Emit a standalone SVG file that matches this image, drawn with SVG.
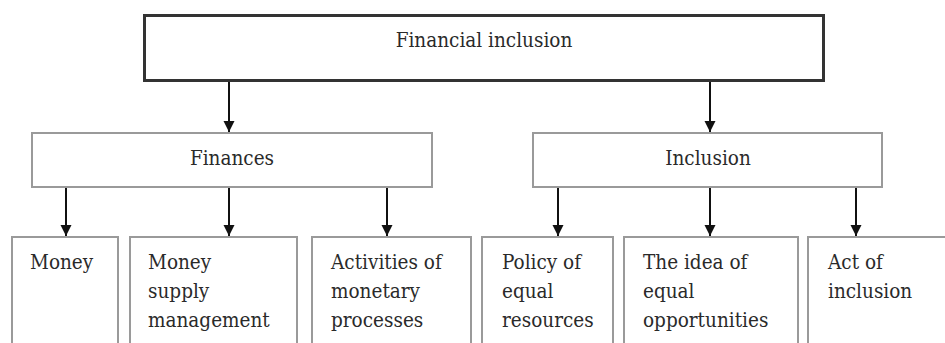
<svg xmlns="http://www.w3.org/2000/svg" width="945" height="343" viewBox="0 0 945 343">
  <defs>
    <marker id="head" viewBox="0 0 10 10" refX="10" refY="5" markerWidth="5.5" markerHeight="6" markerUnits="strokeWidth" orient="auto">
      <path d="M0,0 L10,5 L0,10 z" fill="#111"/>
    </marker>
  </defs>
  <style>
    text { font-family: 'DejaVu Serif Condensed', 'DejaVu Serif', serif; font-stretch: condensed; font-size: 20.5px; fill: #2a2a2a; }
    .mid { text-anchor: middle; }
    .root { fill: #fff; stroke: #333; stroke-width: 3; }
    .box { fill: #fff; stroke: #9a9a9a; stroke-width: 2; }
    .conn { stroke: #111; stroke-width: 2; fill: none; marker-end: url(#head); }
  </style>
  <rect width="945" height="343" fill="#fff"/>

  <!-- top level -->
  <g id="financial-inclusion">
    <rect class="root" x="144.5" y="15.5" width="679" height="65"/>
    <text class="mid" x="484" y="46.5">Financial inclusion</text>
  </g>

  <!-- second level -->
  <g id="finances">
    <rect class="box" x="32" y="133" width="400" height="54"/>
    <text class="mid" x="232" y="165">Finances</text>
  </g>
  <g id="inclusion">
    <rect class="box" x="533" y="133" width="349" height="54"/>
    <text class="mid" x="708" y="165">Inclusion</text>
  </g>

  <!-- third level -->
  <g id="money">
    <rect class="box" x="12" y="237" width="106" height="130"/>
    <text x="30" y="269">Money</text>
  </g>
  <g id="money-supply">
    <rect class="box" x="130" y="237" width="167" height="130"/>
    <text x="148" y="269">Money</text>
    <text x="148" y="298">supply</text>
    <text x="148" y="327">management</text>
  </g>
  <g id="monetary-activities">
    <rect class="box" x="312" y="237" width="159" height="130"/>
    <text x="331" y="269">Activities of</text>
    <text x="331" y="298">monetary</text>
    <text x="331" y="327">processes</text>
  </g>
  <g id="equal-resources">
    <rect class="box" x="482" y="237" width="131" height="130"/>
    <text x="502" y="269">Policy of</text>
    <text x="502" y="298">equal</text>
    <text x="502" y="327">resources</text>
  </g>
  <g id="equal-opportunities">
    <rect class="box" x="624" y="237" width="174" height="130"/>
    <text x="643" y="269">The idea of</text>
    <text x="643" y="298">equal</text>
    <text x="643" y="327">opportunities</text>
  </g>
  <g id="act-of-inclusion">
    <rect class="box" x="808" y="237" width="150" height="130"/>
    <text x="828" y="269">Act of</text>
    <text x="828" y="298">inclusion</text>
  </g>

  <!-- connectors -->
  <g id="connectors">
    <line class="conn" x1="229" y1="82" x2="229" y2="132"/>
    <line class="conn" x1="710" y1="82" x2="710" y2="132"/>
    <line class="conn" x1="66" y1="188" x2="66" y2="236"/>
    <line class="conn" x1="229" y1="188" x2="229" y2="236"/>
    <line class="conn" x1="387" y1="188" x2="387" y2="236"/>
    <line class="conn" x1="558" y1="188" x2="558" y2="236"/>
    <line class="conn" x1="710" y1="188" x2="710" y2="236"/>
    <line class="conn" x1="856" y1="188" x2="856" y2="236"/>
  </g>
</svg>
